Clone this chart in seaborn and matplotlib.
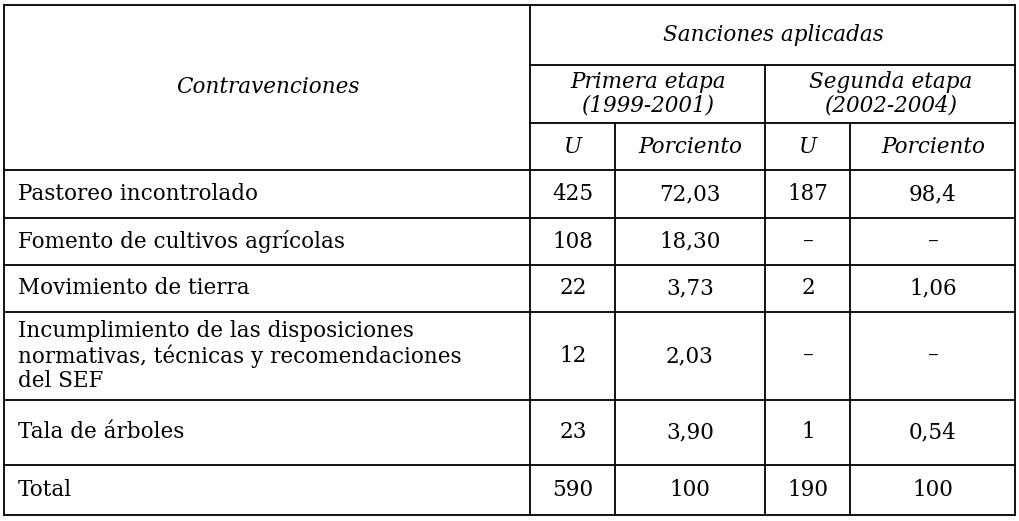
import matplotlib
matplotlib.use('Agg')
import matplotlib.pyplot as plt
import seaborn as sns

contravenciones = [
    'Pastoreo incontrolado',
    'Fomento de cultivos agrícolas',
    'Movimiento de tierra',
    'Incumplimiento de las disposiciones\nnormativas, técnicas y recomendaciones\ndel SEF',
    'Tala de árboles',
    'Total',
]
u_primera = ['425', '108', '22', '12', '23', '590']
pct_primera = ['72,03', '18,30', '3,73', '2,03', '3,90', '100']
u_segunda = ['187', '–', '2', '–', '1', '190']
pct_segunda = ['98,4', '–', '1,06', '–', '0,54', '100']

sns.set_style('white')
plt.rcParams['font.family'] = ['DejaVu Serif']
plt.rcParams['text.color'] = 'black'

fig = plt.figure(figsize=(10.19, 5.21), dpi=100)
ax = fig.add_axes([0, 0, 1, 1])
ax.set_xlim(0, 1019)
ax.set_ylim(521, 0)
ax.axis('off')

lw = 1.3
col_x = [4, 530, 615, 765, 850, 1015]
row_y = [170, 218, 265, 312, 400, 465, 515]

# grid lines
ax.plot([col_x[0], col_x[-1]], [5, 5], color='black', lw=lw)
for y in row_y:
    ax.plot([col_x[0], col_x[-1]], [y, y], color='black', lw=lw)
ax.plot([530, 1015], [65, 65], color='black', lw=lw)
ax.plot([530, 1015], [123, 123], color='black', lw=lw)
for x in [4, 530, 1015]:
    ax.plot([x, x], [5, 515], color='black', lw=lw)
ax.plot([765, 765], [65, 515], color='black', lw=lw)
for x in [615, 850]:
    ax.plot([x, x], [123, 515], color='black', lw=lw)

fs = 15.5
hdr = dict(ha='center', va='center', fontsize=fs, style='italic', color='black')
ax.text(268, 87, 'Contravenciones', **hdr)
ax.text(773, 35, 'Sanciones aplicadas', **hdr)
ax.text(648, 94, 'Primera etapa\n(1999-2001)', linespacing=1.1, **hdr)
ax.text(891, 94, 'Segunda etapa\n(2002-2004)', linespacing=1.1, **hdr)
for x, t in zip([573, 690, 808, 933], ['U', 'Porciento', 'U', 'Porciento']):
    ax.text(x, 147, t, **hdr)

centers = [(row_y[i] + row_y[i + 1]) / 2 for i in range(len(row_y) - 1)]
for i, yc in enumerate(centers):
    ax.text(18, yc, contravenciones[i], ha='left', va='center', fontsize=fs,
            linespacing=1.1, color='black')
    for x, vals in zip([573, 690, 808, 933], [u_primera, pct_primera, u_segunda, pct_segunda]):
        ax.text(x, yc, vals[i], ha='center', va='center', fontsize=fs, color='black')

fig.savefig('out.png', dpi=100, facecolor='white')
